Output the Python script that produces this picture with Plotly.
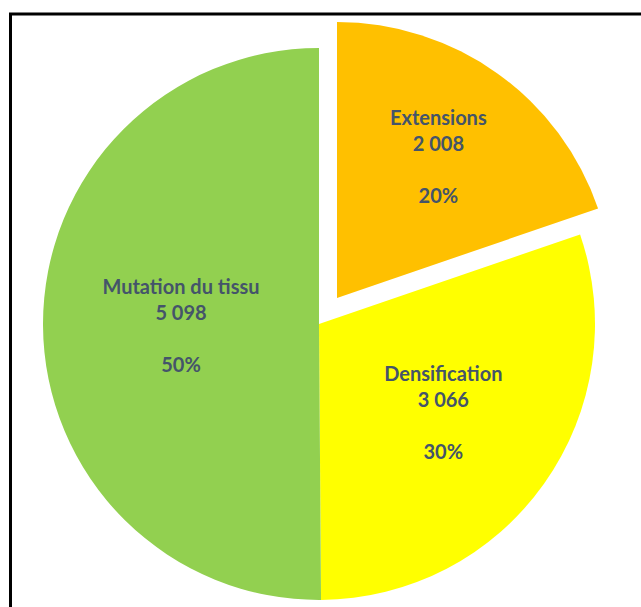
import plotly.graph_objects as go

categories = ["Extensions", "Densification", "Mutation du tissu"]
values = [2008, 3066, 5098]
colors = ["#FFC000", "#FFFF00", "#92D050"]

W, H = 641, 607
TRANSPARENT = "rgba(0,0,0,0)"

tmpl = "%{label}<br>%{value:,}<br><br>%{percent:.0%}"

def dom(cx, cy, r):
    return dict(x=[(cx - r) / W, (cx + r) / W], y=[1 - (cy + r) / H, 1 - (cy - r) / H])

common = dict(
    labels=categories, values=values, sort=False, direction="clockwise", rotation=0,
    textposition="inside", insidetextorientation="horizontal",
    textfont=dict(family="Lato", size=20, color="#44546A", weight="bold"),
    showlegend=False, hoverinfo="label+value+percent",
)

# main body (Densification, Mutation du tissu)
trace_main = go.Pie(
    **common,
    marker=dict(colors=[TRANSPARENT, colors[1], colors[2]], line=dict(width=0)),
    texttemplate=["", tmpl, tmpl],
    domain=dom(319, 324, 276),
)
# exploded slice (Extensions)
trace_exp = go.Pie(
    **common,
    marker=dict(colors=[colors[0], TRANSPARENT, TRANSPARENT], line=dict(width=0)),
    texttemplate=[tmpl, "", ""],
    domain=dom(337, 298, 276),
)

fig = go.Figure([trace_main, trace_exp])
fig.update_layout(
    width=W, height=H, margin=dict(l=0, r=0, t=0, b=0),
    paper_bgcolor="white", plot_bgcolor="white",
    separators=", ",
    shapes=[dict(type="rect", xref="paper", yref="paper",
                 x0=10.5 / W, x1=1.2, y0=-0.2, y1=1 - 14 / H,
                 line=dict(color="black", width=3))],
)
fig.write_html("out.html")
